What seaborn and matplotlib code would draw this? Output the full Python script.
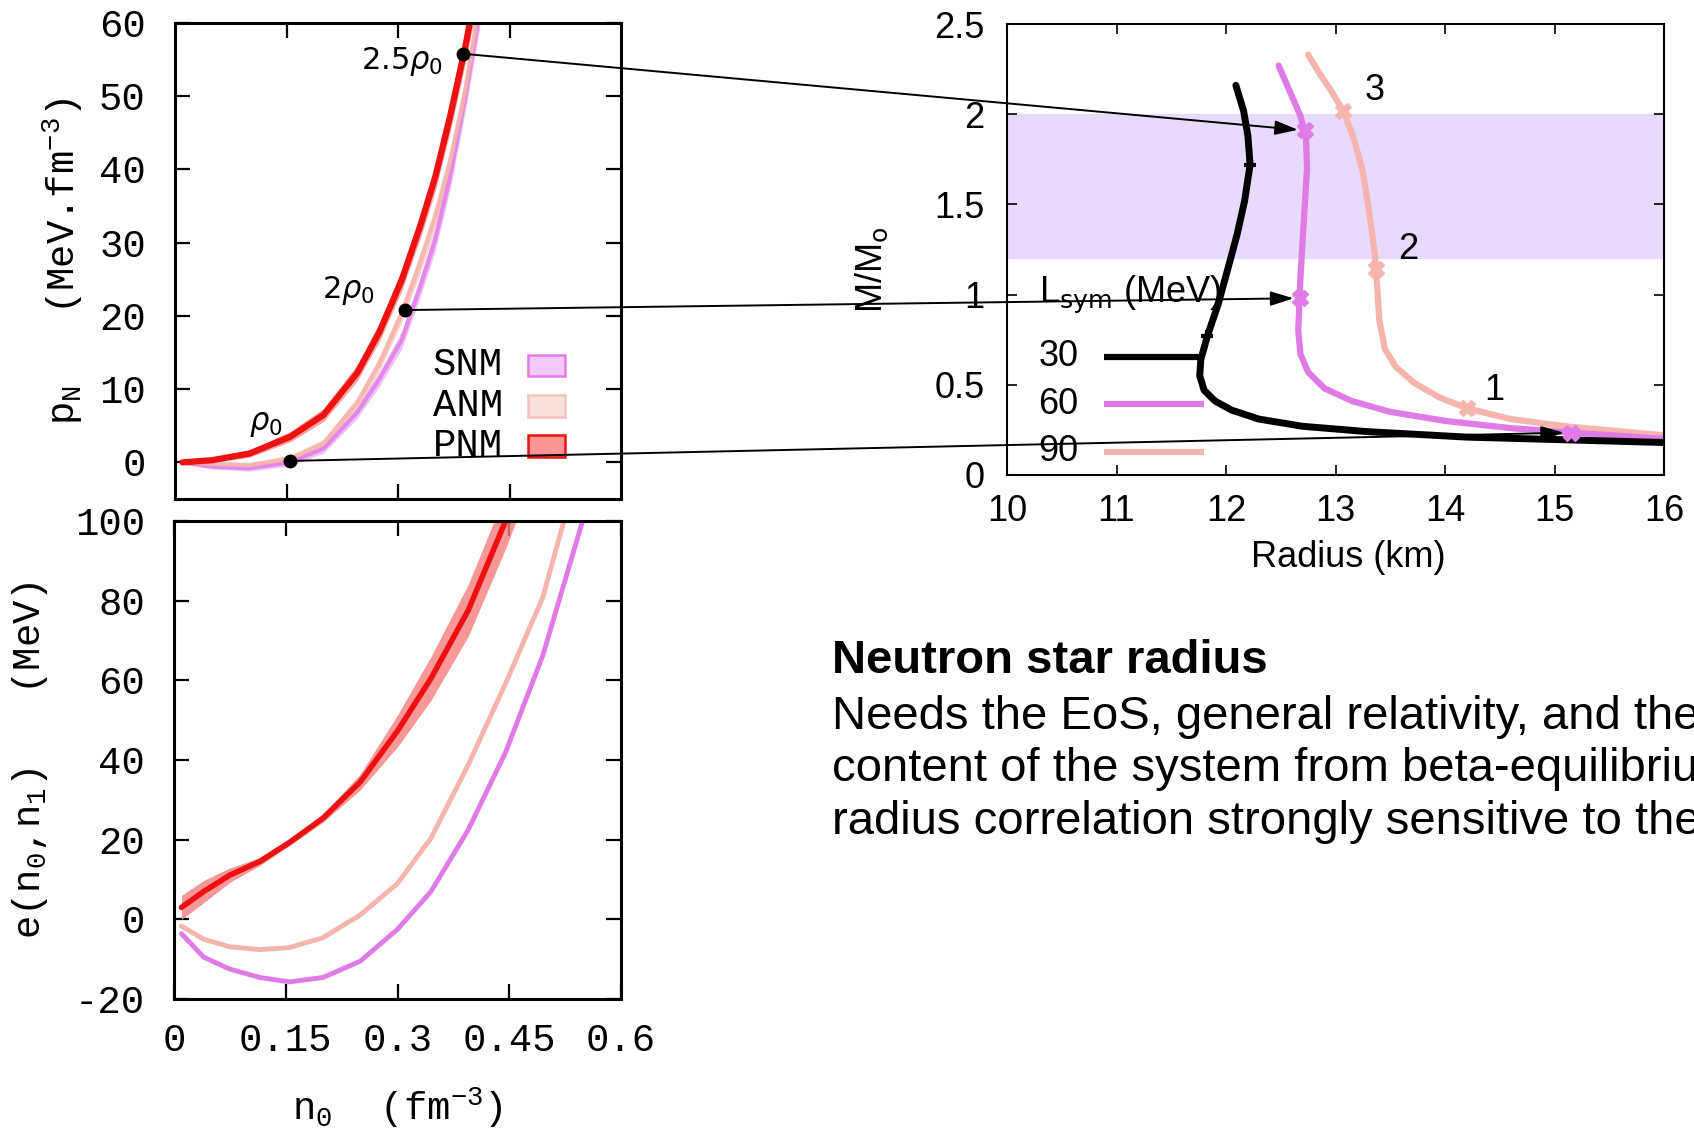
import matplotlib
matplotlib.use("Agg")
import matplotlib.pyplot as plt
import seaborn as sns
from matplotlib.patches import Rectangle, ConnectionPatch

# ---------------- pressure p_N(n0), MeV fm^-3 ----------------
n_p = [0.01, 0.05, 0.10, 0.155, 0.20, 0.245, 0.275, 0.305, 0.33, 0.35, 0.37, 0.39, 0.41]
p_snm = [0.0, -0.6, -0.8, 0.0, 1.9, 6.8, 11.4, 16.7, 24.0, 30.4, 39.0, 49.6, 61.5]
p_anm = [0.0, -0.2, -0.4, 0.5, 2.6, 8.1, 13.5, 20.3, 27.3, 33.5, 41.0, 50.5, 63.0]
p_pnm = [0.0, 0.3, 1.2, 3.5, 6.5, 12.2, 17.8, 24.9, 32.3, 38.9, 47.2, 56.5, 67.0]
p_snm_err = [0.2, 0.3, 0.4, 0.5, 0.6, 0.8, 1.0, 1.2, 1.4, 1.6, 1.8, 2.0, 2.2]
p_anm_err = [0.2, 0.3, 0.4, 0.5, 0.6, 0.8, 1.0, 1.2, 1.4, 1.6, 1.8, 2.0, 2.2]
p_pnm_err = [0.2, 0.3, 0.5, 0.7, 0.9, 1.1, 1.3, 1.5, 1.7, 1.9, 2.1, 2.3, 2.5]

# reference densities rho0, 2 rho0, 2.5 rho0 on the pressure curve
dot_n = [0.155, 0.31, 0.3875]
dot_p = [0.2, 20.8, 55.8]
dot_labels = [r"$\rho_{\mathit{0}}$", r"$2\rho_{\mathit{0}}$", r"$2.5\rho_{\mathit{0}}$"]
dot_label_n = [0.122, 0.233, 0.306]
dot_label_p = [5.3, 23.5, 54.7]

# ---------------- energy per particle e(n0, n1), MeV ----------------
n_e = [0.01, 0.04, 0.075, 0.115, 0.155, 0.20, 0.25, 0.30, 0.345, 0.395, 0.445, 0.495, 0.55]
e_snm = [-3.6, -9.5, -12.5, -14.6, -15.7, -14.6, -10.5, -2.5, 7.0, 22.5, 41.9, 66.2, 101.0]
e_anm = [-1.7, -5.0, -6.9, -7.6, -7.1, -4.6, 1.1, 9.0, 20.4, 38.8, 59.2, 80.8, 118.0]
e_pnm = [3.0, 7.0, 11.1, 14.5, 19.3, 25.4, 34.5, 47.3, 60.5, 77.6, 100.0, 125.0, 155.0]
e_pnm_err = [3.0, 2.8, 1.8, 1.0, 0.8, 1.0, 2.0, 4.0, 5.5, 6.5, 7.0, 7.5, 8.0]

# ---------------- mass-radius relations for three L_sym values ----------------
lsym_values = ["30", "60", "90"]
r_30 = [12.09, 12.16, 12.20, 12.22, 12.17, 12.10, 12.02, 11.93, 11.83, 11.77,
        11.76, 11.80, 11.90, 12.05, 12.30, 12.70, 13.30, 14.20, 15.10, 16.00]
m_30 = [2.16, 2.02, 1.88, 1.72, 1.52, 1.33, 1.15, 0.95, 0.77, 0.64,
        0.55, 0.47, 0.41, 0.36, 0.31, 0.27, 0.24, 0.21, 0.195, 0.18]
r_60 = [12.48, 12.58, 12.68, 12.73, 12.74, 12.72, 12.70, 12.68, 12.67, 12.66,
        12.68, 12.75, 12.90, 13.15, 13.50, 14.00, 14.60, 15.15, 16.00]
m_60 = [2.27, 2.13, 1.99, 1.88, 1.70, 1.50, 1.30, 1.10, 0.95, 0.80,
        0.67, 0.57, 0.48, 0.41, 0.35, 0.30, 0.26, 0.235, 0.20]
r_90 = [12.75, 12.85, 12.96, 13.07, 13.17, 13.25, 13.31, 13.36, 13.38, 13.40,
        13.45, 13.55, 13.72, 13.95, 14.20, 14.60, 15.10, 16.00]
m_90 = [2.33, 2.23, 2.13, 2.02, 1.86, 1.68, 1.45, 1.22, 1.05, 0.86,
        0.70, 0.60, 0.51, 0.43, 0.37, 0.31, 0.27, 0.22]

# marked points along each branch
mk_r_30 = [12.22, 11.83]
mk_m_30 = [1.72, 0.77]
mk_r_60 = [15.15, 12.68, 12.72]
mk_m_60 = [0.235, 0.98, 1.91]
mk_r_90 = [14.20, 13.37, 13.07]
mk_m_90 = [0.37, 1.14, 2.02]
mk_labels_90 = ["1", "2", "3"]
mk_label_r = [14.45, 13.66, 13.36]
mk_label_m = [0.47, 1.25, 2.13]

# observed mass band
band_m = [1.2, 2.0]

# ---------------- styling ----------------
sns.set_style("white")
plt.rcParams["font.family"] = ["Liberation Sans", "DejaVu Sans"]
plt.rcParams["text.color"] = "black"
plt.rcParams["axes.labelcolor"] = "black"
plt.rcParams["xtick.color"] = "black"
plt.rcParams["ytick.color"] = "black"
plt.rcParams["axes.unicode_minus"] = False
plt.rcParams["mathtext.fontset"] = "custom"
plt.rcParams["mathtext.rm"] = "Liberation Mono"
plt.rcParams["mathtext.it"] = "Liberation Mono:italic"
plt.rcParams["mathtext.bf"] = "Liberation Mono:bold"

C_SNM = "#e07ae6"
C_ANM = "#f5b4ad"
C_PNM = "#ee1111"
C_PNM_BAND = "#f47e7e"
C_BAND = "#e7dafc"
MONO = "Liberation Mono"

W, H = 1694, 1133
fig = plt.figure(figsize=(W / 100, H / 100), dpi=100)
ax1 = fig.add_axes([175 / W, 1 - 499 / H, 446 / W, 476 / H])
ax2 = fig.add_axes([174 / W, 1 - 999 / H, 447 / W, 478 / H])
ax3 = fig.add_axes([1007 / W, 1 - 475 / H, 657 / W, 451 / H])

# ---------------- top-left: pressure ----------------
ax1.fill_between(n_p, [a - b for a, b in zip(p_snm, p_snm_err)],
                 [a + b for a, b in zip(p_snm, p_snm_err)], color=C_SNM, alpha=0.45, lw=0)
sns.lineplot(x=n_p, y=p_snm, ax=ax1, color=C_SNM, lw=3, alpha=0.8)
ax1.fill_between(n_p, [a - b for a, b in zip(p_anm, p_anm_err)],
                 [a + b for a, b in zip(p_anm, p_anm_err)], color=C_ANM, alpha=0.55, lw=0)
sns.lineplot(x=n_p, y=p_anm, ax=ax1, color=C_ANM, lw=3, alpha=0.9)
ax1.fill_between(n_p, [a - b for a, b in zip(p_pnm, p_pnm_err)],
                 [a + b for a, b in zip(p_pnm, p_pnm_err)], color=C_PNM_BAND, alpha=0.7, lw=0)
sns.lineplot(x=n_p, y=p_pnm, ax=ax1, color=C_PNM, lw=4.5)

ax1.plot(dot_n, dot_p, "o", color="black", ms=9, zorder=6)
for lab, x, y in zip(dot_labels, dot_label_n, dot_label_p):
    ax1.text(x, y, lab, fontsize=22, ha="center", va="center", math_fontfamily="dejavusans")

# legend drawn in the gnuplot manner: label first, filled box after
leg_items = [("SNM", "#f6c8f8", C_SNM), ("ANM", "#fbe1de", "#f5c2bd"), ("PNM", "#f79494", C_PNM)]
leg_rows = [0.281, 0.195, 0.111]
for (name, fc, ec), yy in zip(leg_items, leg_rows):
    ax1.text(0.735, yy, name, transform=ax1.transAxes, ha="right", va="center",
             fontsize=28, fontfamily=MONO)
    ax1.add_patch(Rectangle((0.791, yy - 0.0225), 0.083, 0.045, transform=ax1.transAxes,
                            facecolor=fc, edgecolor=ec, lw=1.8, zorder=5))

ax1.set_xlim(0, 0.6)
ax1.set_ylim(-5, 60)
ax1.set_xticks([0.15, 0.30, 0.45])
ax1.set_yticks([0, 10, 20, 30, 40, 50, 60], labels=["0", "10", "20", "30", "40", "50", "60"],
               fontfamily=MONO)
ax1.tick_params(labelbottom=False)
ax1.set_xlabel("")
ax1.set_ylabel(r"p$_\mathrm{N}$   (MeV.fm$^{-3}$)", fontsize=28, fontfamily=MONO)
ax1.yaxis.set_label_coords(-0.252, 0.5)
ax1.yaxis.label.set_va("center")

# ---------------- bottom-left: energy per particle ----------------
ax2.fill_between(n_e, [a - b for a, b in zip(e_pnm, e_pnm_err)],
                 [a + b for a, b in zip(e_pnm, e_pnm_err)], color=C_PNM_BAND, alpha=0.8, lw=0)
sns.lineplot(x=n_e, y=e_pnm, ax=ax2, color=C_PNM, lw=4)
sns.lineplot(x=n_e, y=e_anm, ax=ax2, color=C_ANM, lw=3.5)
sns.lineplot(x=n_e, y=e_snm, ax=ax2, color=C_SNM, lw=3.5)

ax2.set_xlim(0, 0.6)
ax2.set_ylim(-20, 100)
ax2.set_xticks([0, 0.15, 0.30, 0.45, 0.60], labels=["0", "0.15", "0.3", "0.45", "0.6"],
               fontfamily=MONO)
ax2.set_yticks([-20, 0, 20, 40, 60, 80, 100],
               labels=["-20", "0", "20", "40", "60", "80", "100"], fontfamily=MONO)
ax2.set_xlabel(r"n$_0$  (fm$^{-3}$)", fontsize=28, fontfamily=MONO)
ax2.xaxis.set_label_coords(0.5, -0.228)
ax2.xaxis.label.set_va("center")
ax2.set_ylabel(r"e(n$_0$,n$_1$)   (MeV)", fontsize=28, fontfamily=MONO)
ax2.yaxis.set_label_coords(-0.322, 0.5)
ax2.yaxis.label.set_va("center")

for ax in (ax1, ax2):
    ax.tick_params(direction="in", length=11, width=1.6, color="black",
                   top=True, right=True, bottom=True, left=True, labelsize=28)
    ax.tick_params(axis="y", pad=21)
    ax.tick_params(axis="x", pad=17)
    for s in ax.spines.values():
        s.set_linewidth(2.2)
        s.set_color("black")

# ---------------- right: mass-radius ----------------
ax3.axhspan(band_m[0], band_m[1], color=C_BAND, lw=0, zorder=0)
sns.lineplot(x=r_90, y=m_90, ax=ax3, sort=False, estimator=None, color=C_ANM, lw=4.5)
sns.lineplot(x=r_60, y=m_60, ax=ax3, sort=False, estimator=None, color=C_SNM, lw=4.5)
sns.lineplot(x=r_30, y=m_30, ax=ax3, sort=False, estimator=None, color="black", lw=5)
ax3.plot(mk_r_30, mk_m_30, "+", color="black", ms=9, mew=3, zorder=5)
ax3.plot(mk_r_60, mk_m_60, "X", color=C_SNM, ms=12, mec=C_SNM, zorder=5)
ax3.plot(mk_r_90, mk_m_90, "X", color=C_ANM, ms=12, mec=C_ANM, zorder=5)
for lab, x, y in zip(mk_labels_90, mk_label_r, mk_label_m):
    ax3.text(x, y, lab, fontsize=26, ha="center", va="center")

# L_sym key
ax3.text(0.048, 0.40, r"L$_\mathrm{sym}$ (MeV)", transform=ax3.transAxes, fontsize=26,
         ha="left", va="center", math_fontfamily="dejavusans")
key_rows = [0.262, 0.157, 0.052]
for val, col, yy in zip(lsym_values, ["black", C_SNM, C_ANM], key_rows):
    ax3.text(0.048, yy, val, transform=ax3.transAxes, fontsize=26, ha="left", va="center")
    ax3.plot([0.147, 0.30], [yy, yy], transform=ax3.transAxes, color=col, lw=4.5,
             solid_capstyle="butt")

ax3.set_xlim(10, 16)
ax3.set_ylim(0, 2.5)
ax3.set_xticks([10, 11, 12, 13, 14, 15, 16])
ax3.set_yticks([0, 0.5, 1, 1.5, 2, 2.5], labels=["0", "0.5", "1", "1.5", "2", "2.5"])
ax3.tick_params(direction="in", length=7, width=1.2, color="black",
                top=True, right=True, bottom=True, left=True, labelsize=26)
ax3.tick_params(axis="y", pad=16)
ax3.tick_params(axis="x", pad=14)
for s in ax3.spines.values():
    s.set_linewidth(1.5)
    s.set_color("black")
ax3.set_xlabel("Radius (km)", fontsize=26)
ax3.xaxis.set_label_coords(0.52, -0.184)
ax3.xaxis.label.set_va("center")
ax3.set_ylabel(r"M/M$_\mathrm{o}$", fontsize=26, math_fontfamily="dejavusans")
ax3.yaxis.set_label_coords(-0.205, 0.455)
ax3.yaxis.label.set_va("center")

# arrows linking each density on the EoS to its star on the L_sym = 60 branch
for n, p, r, m in zip(dot_n, dot_p, mk_r_60, mk_m_60):
    con = ConnectionPatch(xyA=(n, p), coordsA="data", axesA=ax1,
                          xyB=(r, m), coordsB="data", axesB=ax3,
                          arrowstyle="-|>,head_length=0.7,head_width=0.22",
                          mutation_scale=20, lw=1.4, color="black",
                          shrinkA=0, shrinkB=5, zorder=10)
    fig.add_artist(con)

# ---------------- caption text (runs past the right edge of the canvas) ----------------
fig.text(832 / W, 1 - 673 / H, "Neutron star radius", fontsize=34, fontweight="bold",
         ha="left", va="baseline")
body = ["Needs the EoS, general relativity, and the",
        "content of the system from beta-equilibrium",
        "radius correlation strongly sensitive to the"]
for line, yb in zip(body, [729, 781, 834]):
    fig.text(832 / W, 1 - yb / H, line, fontsize=34, ha="left", va="baseline")

fig.savefig("out.png", dpi=100)
